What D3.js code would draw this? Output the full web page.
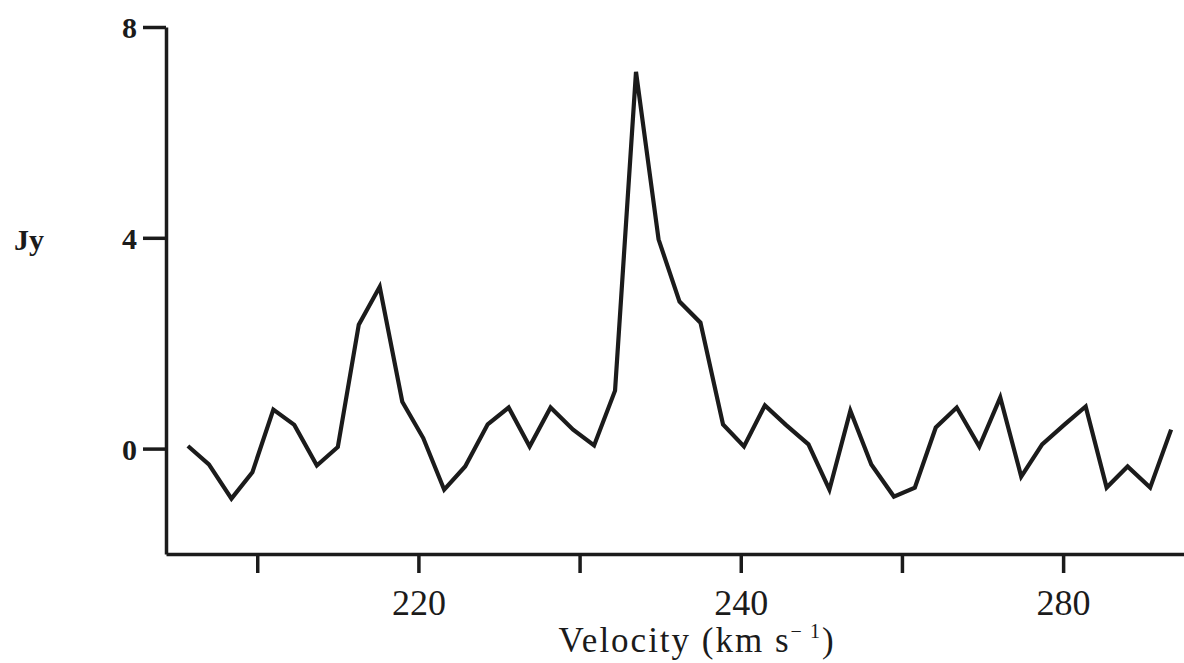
<!DOCTYPE html>
<html>
<head>
<meta charset="utf-8">
<script src="https://cdn.jsdelivr.net/npm/d3@7"></script>
<style>
  html, body { margin: 0; padding: 0; background: #fff; }
  svg { display: block; }
</style>
</head>
<body>
<svg id="chart" width="1184" height="663"></svg>
<script>
// Channel velocities (km/s)
const velocity = [205.7, 207.0, 208.4, 209.7, 211.0, 212.3, 213.7, 215.0, 216.3, 217.6,
  219.0, 220.3, 221.6, 222.9, 224.3, 225.6, 226.9, 228.2, 229.6, 230.9,
  232.2, 233.5, 234.9, 236.2, 237.5, 238.9, 240.2, 241.5, 242.8, 244.2,
  245.5, 246.8, 248.1, 249.5, 250.8, 252.1, 253.4, 254.8, 256.1, 257.4,
  258.7, 260.1, 261.4, 262.7, 264.0, 265.4, 266.7];
// Flux density (Jy)
const flux = [0.05, -0.30, -0.95, -0.45, 0.74, 0.45, -0.32, 0.03, 2.35, 3.07,
  0.89, 0.20, -0.78, -0.34, 0.46, 0.78, 0.04, 0.78, 0.36, 0.06,
  1.10, 7.15, 3.97, 2.79, 2.39, 0.46, 0.04, 0.82, 0.45, 0.08,
  -0.78, 0.72, -0.30, -0.91, -0.74, 0.40, 0.78, 0.04, 0.97, -0.53,
  0.08, 0.46, 0.80, -0.74, -0.34, -0.74, 0.36];
const xTickValues = [210, 220, 230, 240, 250, 260];
const xTickLabels = ["", "220", "", "240", "", "280"];
const yTickValues = [0, 4, 8];
const yTickLabels = ["0", "4", "8"];
const xDomain = [204.34, 267.5];
const yDomain = [-2, 8];
const yAxisLabel = "Jy";

const svg = d3.select("#chart");
const mLeft = 166, mRight = 1184, mTop = 27, mBottom = 554;
const ink = "#1b1b1b";
const serif = "'Liberation Serif', 'Times New Roman', serif";

const x = d3.scaleLinear().domain(xDomain).range([mLeft, mRight]);
const y = d3.scaleLinear().domain(yDomain).range([mBottom, mTop]);

// y axis
const gy = svg.append("g").attr("transform", `translate(${mLeft},0)`)
  .call(d3.axisLeft(y).tickValues(yTickValues).tickSize(23).tickSizeOuter(0)
    .tickFormat((d, i) => yTickLabels[i]));
gy.select(".domain").attr("stroke", ink).attr("stroke-width", 3.5);
gy.selectAll(".tick line").attr("stroke", ink).attr("stroke-width", 3.5);
gy.selectAll(".tick text")
  .attr("x", -29).attr("dy", "0.36em")
  .attr("fill", ink)
  .style("font-family", serif).style("font-size", "30px").style("font-weight", "bold");

// x axis
const gx = svg.append("g").attr("transform", `translate(0,${mBottom})`)
  .call(d3.axisBottom(x).tickValues(xTickValues).tickSize(19).tickSizeOuter(0)
    .tickFormat((d, i) => xTickLabels[i]));
gx.select(".domain").attr("stroke", ink).attr("stroke-width", 3.5);
gx.selectAll(".tick line").attr("stroke", ink).attr("stroke-width", 3.5);
gx.selectAll(".tick text")
  .attr("y", 0).attr("dy", 0)
  .attr("transform", "translate(0,61)")
  .attr("fill", ink)
  .style("font-family", serif).style("font-size", "36px");

// spectrum line
const pts = velocity.map((v, i) => [v, flux[i]]);
svg.append("path")
  .datum(pts)
  .attr("fill", "none")
  .attr("stroke", ink)
  .attr("stroke-width", 4.2)
  .attr("stroke-linejoin", "miter")
  .attr("stroke-miterlimit", 10)
  .attr("d", d3.line().x(d => x(d[0])).y(d => y(d[1])));

// axis labels
svg.append("text")
  .attr("x", 14).attr("y", 250)
  .attr("fill", ink)
  .style("font-family", serif).style("font-size", "30px").style("font-weight", "bold")
  .text(yAxisLabel);

const title = svg.append("text")
  .attr("x", 697).attr("y", 652)
  .attr("text-anchor", "middle")
  .attr("fill", ink)
  .style("font-family", serif).style("font-size", "35px")
  .style("letter-spacing", "2px");
title.append("tspan").text("Velocity (km s");
title.append("tspan").attr("dy", -14).style("font-size", "20px").text("\u2212\u20091");
title.append("tspan").attr("dy", 14).text(")");
</script>
</body>
</html>
